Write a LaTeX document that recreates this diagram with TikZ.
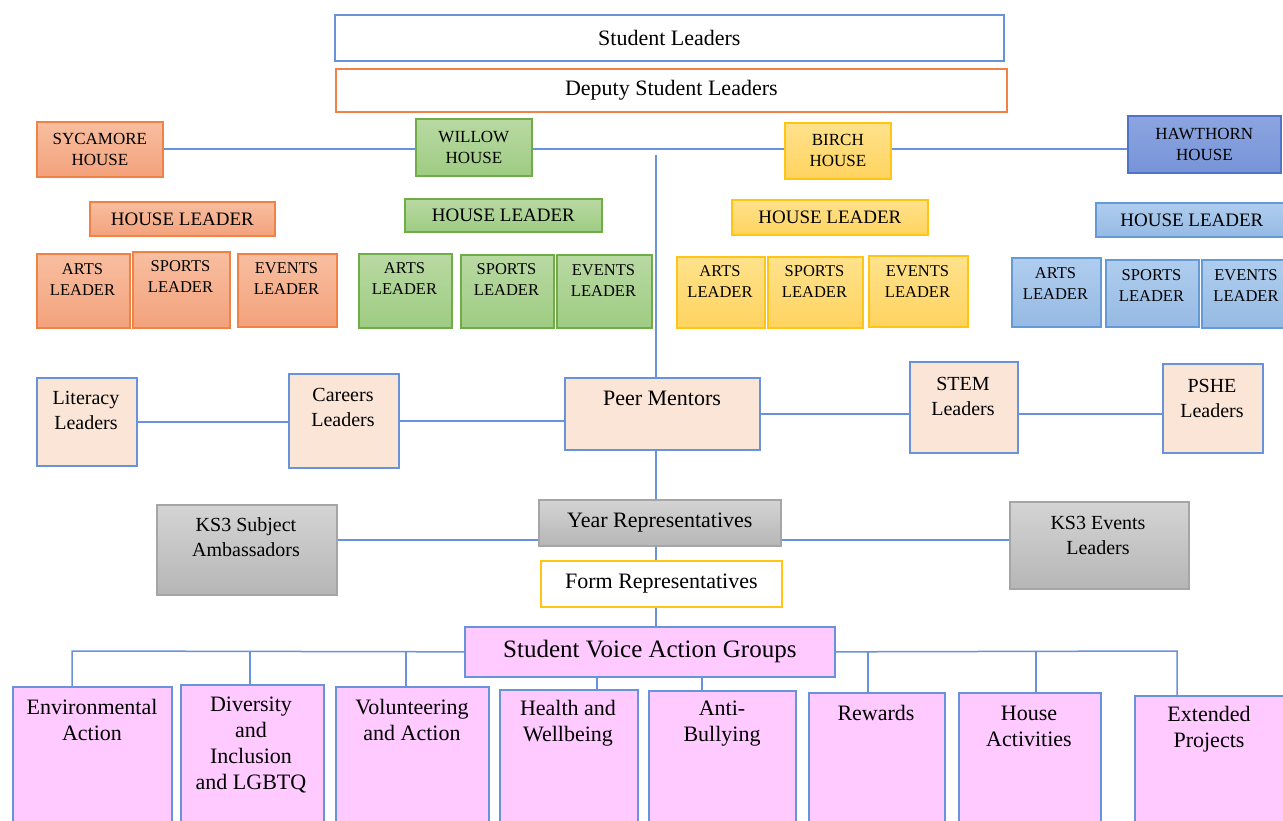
\documentclass[tikz,border=0pt]{standalone}
\usepackage{fontspec}
\setmainfont{Liberation Serif}
\usetikzlibrary{positioning}
\definecolor{linkblue}{RGB}{104,146,220}
\definecolor{sycedge}{RGB}{240,130,70}
\definecolor{syctop}{RGB}{248,190,160}
\definecolor{sycbot}{RGB}{243,162,124}
\definecolor{wiledge}{RGB}{112,173,71}
\definecolor{wiltop}{RGB}{185,217,163}
\definecolor{wilbot}{RGB}{158,204,130}
\definecolor{biredge}{RGB}{255,196,20}
\definecolor{birtop}{RGB}{255,226,140}
\definecolor{birbot}{RGB}{255,211,95}
\definecolor{hawedge}{RGB}{80,115,200}
\definecolor{hawtop}{RGB}{140,165,225}
\definecolor{hawbot}{RGB}{120,148,215}
\definecolor{hledge}{RGB}{100,155,215}
\definecolor{hltop}{RGB}{175,205,238}
\definecolor{hlbot}{RGB}{150,186,228}
\definecolor{peachfill}{RGB}{251,229,214}
\definecolor{greytop}{RGB}{212,212,212}
\definecolor{greybot}{RGB}{182,182,182}
\definecolor{greyedge}{RGB}{165,165,165}
\definecolor{pinkfill}{RGB}{255,202,255}
\newcommand{\fbig}{\fontsize{22}{26}\selectfont}
\newcommand{\fhouse}{\fontsize{17}{21}\selectfont}
\newcommand{\fhl}{\fontsize{19}{22}\selectfont}
\newcommand{\fld}{\fontsize{16.5}{21}\selectfont}
\newcommand{\fmid}{\fontsize{20}{25}\selectfont}
\newcommand{\fsvag}{\fontsize{25}{28}\selectfont}
\begin{document}
\begin{tikzpicture}[x=1pt, y=-1pt,
    box/.style={draw, line width=1.7pt, inner sep=0pt, anchor=north west, align=center},
    boxsize/.style 2 args={minimum width=#1, minimum height=#2},
    txt/.style={align=center, inner sep=0pt},
    syc/.style={box, draw=sycedge, top color=syctop, bottom color=sycbot},
    wil/.style={box, draw=wiledge, top color=wiltop, bottom color=wilbot},
    bir/.style={box, draw=biredge, top color=birtop, bottom color=birbot},
    haw/.style={box, draw=hawedge, top color=hawtop, bottom color=hawbot},
    hawl/.style={box, draw=hledge, top color=hltop, bottom color=hlbot},
    peach/.style={box, draw=linkblue, fill=peachfill},
    grey/.style={box, draw=greyedge, top color=greytop, bottom color=greybot},
    pink/.style={box, draw=linkblue, fill=pinkfill},
    group/.style={pink, boxsize={#1}{140}}]
  \useasboundingbox (0,0) rectangle (1283,821);

  \node[box, draw=linkblue, fill=white, boxsize={669}{46}, font=\fbig] (lead) at (334,14) {Student Leaders};
  \node[box, draw=sycedge, fill=white, boxsize={671}{43}, font=\fbig] (deputy) at (335,68) {Deputy Student Leaders};

  \node[syc, boxsize={126}{55}, font=\fhouse] (sycH) at (36,121) {SYCAMORE\\HOUSE};
  \node[wil, boxsize={116}{57}, font=\fhouse] (wilH) at (415,118) {WILLOW\\HOUSE};
  \node[bir, boxsize={106}{56}, font=\fhouse] (birH) at (784,122) {BIRCH\\HOUSE};
  \node[haw, boxsize={153}{57}, font=\fhouse] (hawH) at (1127,115) {HAWTHORN\\HOUSE};

  \node[syc, boxsize={185}{34}, font=\fhl] (sycHL) at (89,201) {HOUSE LEADER};
  \node[wil, boxsize={197}{33}, font=\fhl] (wilHL) at (404,198) {HOUSE LEADER};
  \node[bir, boxsize={196}{35}, font=\fhl] (birHL) at (731,199) {HOUSE LEADER};
  \node[hawl, boxsize={192}{34}, font=\fhl] (hawHL) at (1095,202) {HOUSE LEADER};

  \node[syc, boxsize={93}{74}] (sycArts) at (36,253) {};
  \node[syc, boxsize={97}{76}] (sycSports) at (132,251) {};
  \node[syc, boxsize={99}{73}] (sycEvents) at (237,253) {};
  \node[wil, boxsize={93}{74}] (wilArts) at (358,253) {};
  \node[wil, boxsize={93}{73}] (wilSports) at (460,254) {};
  \node[wil, boxsize={95}{73}] (wilEvents) at (556,254) {};
  \node[bir, boxsize={88}{71}] (birArts) at (676,256) {};
  \node[bir, boxsize={95}{71}] (birSports) at (767,256) {};
  \node[bir, boxsize={99}{71}] (birEvents) at (868,255) {};
  \node[hawl, boxsize={89}{69}] (hawArts) at (1011,257) {};
  \node[hawl, boxsize={93}{67}] (hawSports) at (1105,259) {};
  \node[hawl, boxsize={86}{68}] (hawEvents) at (1201,259) {};
  \node[txt, font=\fld] (sycArtsT) at (82.5,280) {ARTS\\LEADER};
  \node[txt, font=\fld] (sycSportsT) at (180.5,277) {SPORTS\\LEADER};
  \node[txt, font=\fld] (sycEventsT) at (286.5,279) {EVENTS\\LEADER};
  \node[txt, font=\fld] (wilArtsT) at (404.5,279) {ARTS\\LEADER};
  \node[txt, font=\fld] (wilSportsT) at (506.5,280) {SPORTS\\LEADER};
  \node[txt, font=\fld] (wilEventsT) at (603.5,281) {EVENTS\\LEADER};
  \node[txt, font=\fld] (birArtsT) at (720,282) {ARTS\\LEADER};
  \node[txt, font=\fld] (birSportsT) at (814.5,282) {SPORTS\\LEADER};
  \node[txt, font=\fld] (birEventsT) at (917.5,282) {EVENTS\\LEADER};
  \node[txt, font=\fld] (hawArtsT) at (1055.5,284) {ARTS\\LEADER};
  \node[txt, font=\fld] (hawSportsT) at (1151.5,286) {SPORTS\\LEADER};
  \node[txt, font=\fld] (hawEventsT) at (1246,286) {EVENTS\\LEADER};

  \node[peach, boxsize={100}{88}] (lit) at (36,377) {};
  \node[peach, boxsize={110}{94}] (car) at (288,373) {};
  \node[peach, boxsize={195}{72}] (peer) at (564,377) {};
  \node[peach, boxsize={108}{91}] (stem) at (909,361) {};
  \node[peach, boxsize={100}{89}] (pshe) at (1162,363) {};
  \node[txt, font=\fmid] (litT) at (86,410) {Literacy\\Leaders};
  \node[txt, font=\fmid] (carT) at (343,407) {Careers\\Leaders};
  \node[txt, font=\fbig] (peerT) at (662,398) {Peer Mentors};
  \node[txt, font=\fmid] (stemT) at (963,396) {STEM\\Leaders};
  \node[txt, font=\fmid] (psheT) at (1212,398) {PSHE\\Leaders};

  \node[grey, boxsize={242}{46}, font=\fbig] (year) at (538,499) {Year Representatives};
  \node[grey, boxsize={180}{90}] (ks3s) at (156,504) {};
  \node[grey, boxsize={179}{87}] (ks3e) at (1009,501) {};
  \node[txt, font=\fmid] (ks3sT) at (246,537) {KS3 Subject\\Ambassadors};
  \node[txt, font=\fmid] (ks3eT) at (1098,535) {KS3 Events\\Leaders};

  \node[box, draw=biredge, fill=white, boxsize={241}{46}, font=\fbig] (form) at (540,560) {Form Representatives};
  \node[pink, boxsize={370}{50}, font=\fsvag] (svag) at (464,626) {Student Voice Action Groups};

  \node[group=159] (env) at (12,686) {};
  \node[group=143] (div) at (180,684) {};
  \node[group=153] (vol) at (335,686) {};
  \node[group=138] (hw) at (499,689) {};
  \node[group=147] (anti) at (648,690) {};
  \node[group=136] (rew) at (808,692) {};
  \node[group=142] (hact) at (958,692) {};
  \node[group=155] (ext) at (1134,695) {};
  \node[txt, font=\fbig] (envT) at (92,720) {Environmental\\Action};
  \node[txt, font=\fbig] (divT) at (251,745) {Diversity\\and\\Inclusion\\and LGBTQ};
  \node[txt, font=\fbig] (volT) at (412,720) {Volunteering\\and Action};
  \node[txt, font=\fbig] (hwT) at (568,723) {Health and\\Wellbeing};
  \node[txt, font=\fbig] (antiT) at (722,724) {Anti-\\Bullying};
  \node[txt, font=\fbig] (rewT) at (876,713) {Rewards};
  \node[txt, font=\fbig] (hactT) at (1029,726) {House\\Activities};
  \node[txt, font=\fbig] (extT) at (1209,729) {Extended\\Projects};

  \coordinate (houseline) at (600,149);
  \coordinate (spine) at (656,155);
  \coordinate (ksbus) at (400,540);
  \coordinate (busL) at (72,651);
  \coordinate (busR) at (1177,651);
  \coordinate (dDiv) at (250,651);
  \coordinate (dVol) at (406,651);
  \coordinate (dHw) at (597,676);
  \coordinate (dAnti) at (702,676);
  \coordinate (dRew) at (868,651);
  \coordinate (dHact) at (1036,651);

  \begin{scope}[draw=linkblue, line width=1.5pt]
    \draw (houseline -| sycH.east) to (houseline -| wilH.west);
    \draw (houseline -| wilH.east) to (houseline -| birH.west);
    \draw (houseline -| birH.east) to (houseline -| hawH.west);
    \draw (spine) to (spine |- peer.north);
    \draw (lit.east) to (lit.east -| car.west);
    \draw (car.east) to (car.east -| peer.west);
    \draw (peer.east) to (peer.east -| stem.west);
    \draw (peer.east -| stem.east) to (peer.east -| pshe.west);
    \draw (spine |- peer.south) to (spine |- year.north);
    \draw (ksbus -| ks3s.east) to (ksbus -| year.west);
    \draw (ksbus -| year.east) to (ksbus -| ks3e.west);
    \draw (spine |- year.south) to (spine |- form.north);
    \draw (spine |- form.south) to (spine |- svag.north);
    \draw (svag.west) to (busL) to (busL |- env.north);
    \draw (dDiv) to (dDiv |- div.north);
    \draw (dVol) to (dVol |- vol.north);
    \draw (dHw) to (dHw |- hw.north);
    \draw (dAnti) to (dAnti |- anti.north);
    \draw (svag.east) to (busR) to (busR |- ext.north);
    \draw (dRew) to (dRew |- rew.north);
    \draw (dHact) to (dHact |- hact.north);
  \end{scope}
\end{tikzpicture}
\end{document}
